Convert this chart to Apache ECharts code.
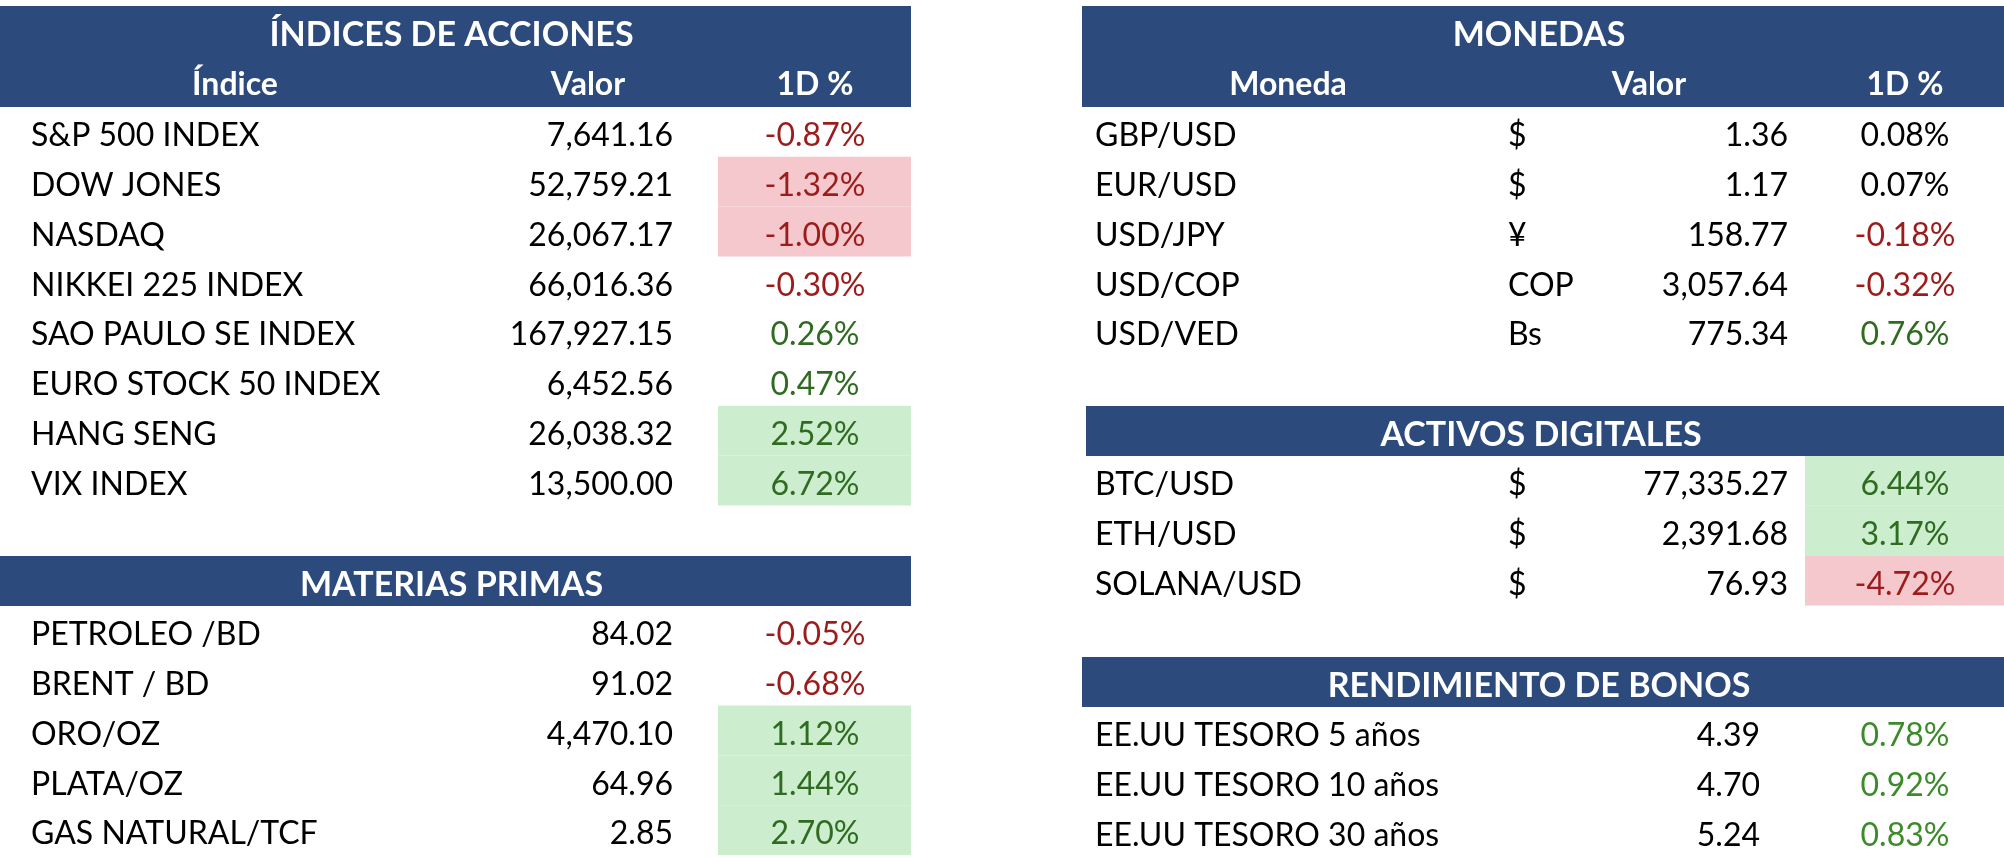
<!DOCTYPE html>
<html>
<head>
<meta charset="utf-8">
<script src="https://cdn.jsdelivr.net/npm/echarts@6/dist/echarts.min.js"></script>
<style>
  html, body { margin: 0; padding: 0; background: #fff; }
  #chart { width: 2004px; height: 862px; }
</style>
</head>
<body>
<div id="chart"></div>
<script>
// ---- data ----
const indicesNames = ["S&P 500 INDEX", "DOW JONES", "NASDAQ", "NIKKEI 225 INDEX", "SAO PAULO SE INDEX", "EURO STOCK 50 INDEX", "HANG SENG", "VIX INDEX"];
const indicesValues = [7641.16, 52759.21, 26067.17, 66016.36, 167927.15, 6452.56, 26038.32, 13500.00];
const indicesPct = [-0.87, -1.32, -1.00, -0.30, 0.26, 0.47, 2.52, 6.72];

const materiasNames = ["PETROLEO /BD", "BRENT / BD", "ORO/OZ", "PLATA/OZ", "GAS NATURAL/TCF"];
const materiasValues = [84.02, 91.02, 4470.10, 64.96, 2.85];
const materiasPct = [-0.05, -0.68, 1.12, 1.44, 2.70];

const monedasNames = ["GBP/USD", "EUR/USD", "USD/JPY", "USD/COP", "USD/VED"];
const monedasSymbols = ["$", "$", "¥", "COP", "Bs"];
const monedasValues = [1.36, 1.17, 158.77, 3057.64, 775.34];
const monedasPct = [0.08, 0.07, -0.18, -0.32, 0.76];

const activosNames = ["BTC/USD", "ETH/USD", "SOLANA/USD"];
const activosSymbols = ["$", "$", "$"];
const activosValues = [77335.27, 2391.68, 76.93];
const activosPct = [6.44, 3.17, -4.72];

const bonosNames = ["EE.UU TESORO 5 años", "EE.UU TESORO 10 años", "EE.UU TESORO 30 años"];
const bonosValues = [4.39, 4.70, 5.24];
const bonosPct = [0.78, 0.92, 0.83];

// ---- style ----
const FONT = "Lato, 'Open Sans', sans-serif";
const BODY_SIZE = 32, HEAD_SIZE = 32, TITLE_SIZE = 34;
const HEAD_BG = "#2C4A7C";
const RED = "#9C1C1C", GREEN_DARK = "#2F6B20", GREEN = "#3C8A2C";
const PINK_BG = "#F5C8CD", GREEN_BG = "#CDEDCF";
const ROW_H = 49.8;

function fmt(v) {
    return v.toLocaleString("en-US", {minimumFractionDigits: 2, maximumFractionDigits: 2});
}

// cells are collected here, drawn by one custom series on a hidden value grid
const cells = [];
function rect(x0, y0, x1, y1, fill) {
    cells.push({kind: "rect", box: [x0, y0, x1, y1], fill: fill});
}
function text(x, y, str, align, color, size, bold) {
    cells.push({kind: "text", box: [x, y, x, y], str: str, align: align, color: color, size: size, bold: !!bold});
}

function addTable(t) {
    // title band
    rect(t.x0, t.top, t.x1, t.top + 50, HEAD_BG);
    text((t.x0 + t.x1) / 2 - 4, t.top + 29, t.title, "center", "#fff", TITLE_SIZE, true);
    let rowTop = t.top + 50;
    if (t.headers) {
        rect(t.x0, rowTop - 1, t.x1, rowTop + 51, HEAD_BG);
        t.headers.forEach(function (h, i) {
            text(t.headerX[i], rowTop + 29, h, "center", "#fff", HEAD_SIZE, true);
        });
        rowTop += 51;
    }
    t.names.forEach(function (name, i) {
        const cy = rowTop + ROW_H * i + ROW_H / 2 + 4;
        const p = t.pct[i];
        let color = "#000";
        if (p < 0) color = RED;
        else if (p > (t.flat || 0)) color = t.posColor;
        if (Math.abs(p) >= 1) {
            rect(t.bgX, rowTop + ROW_H * i, t.x1, rowTop + ROW_H * (i + 1), p < 0 ? PINK_BG : GREEN_BG);
        }
        text(t.nameX, cy, name, "left", "#000", BODY_SIZE);
        if (t.symbols) text(t.symX, cy, t.symbols[i], "left", "#000", BODY_SIZE);
        text(t.valueX, cy, fmt(t.values[i]), "right", "#000", BODY_SIZE);
        text(t.pctX, cy, fmt(p) + "%", "center", color, BODY_SIZE);
    });
}

addTable({
    title: "ÍNDICES DE ACCIONES", x0: 0, x1: 911, top: 6,
    headers: ["Índice", "Valor", "1D %"], headerX: [235, 588, 815],
    names: indicesNames, values: indicesValues, pct: indicesPct,
    nameX: 31, valueX: 673, pctX: 815, bgX: 718, posColor: GREEN_DARK
});
addTable({
    title: "MATERIAS PRIMAS", x0: 0, x1: 911, top: 556,
    names: materiasNames, values: materiasValues, pct: materiasPct,
    nameX: 31, valueX: 673, pctX: 815, bgX: 718, posColor: GREEN_DARK
});
addTable({
    title: "MONEDAS", x0: 1082, x1: 2004, top: 6,
    headers: ["Moneda", "Valor", "1D %"], headerX: [1288, 1649, 1905],
    names: monedasNames, symbols: monedasSymbols, values: monedasValues, pct: monedasPct,
    nameX: 1095, symX: 1508, valueX: 1788, pctX: 1905, bgX: 1805, posColor: GREEN_DARK, flat: 0.1
});
addTable({
    title: "ACTIVOS DIGITALES", x0: 1086, x1: 2004, top: 406,
    names: activosNames, symbols: activosSymbols, values: activosValues, pct: activosPct,
    nameX: 1095, symX: 1508, valueX: 1788, pctX: 1905, bgX: 1805, posColor: GREEN_DARK
});
addTable({
    title: "RENDIMIENTO DE BONOS", x0: 1082, x1: 2004, top: 657,
    names: bonosNames, values: bonosValues, pct: bonosPct,
    nameX: 1095, valueX: 1760, pctX: 1905, bgX: 1805, posColor: GREEN
});

const chart = echarts.init(document.getElementById("chart"));

chart.setOption({
    animation: false,
    grid: {left: 0, right: 0, top: 0, bottom: 0},
    xAxis: {type: "value", min: 0, max: 2004, show: false},
    yAxis: {type: "value", min: 0, max: 862, inverse: true, show: false},
    series: [{
        type: "custom",
        clip: false,
        data: cells.map(function (c) { return c.box; }),
        renderItem: function (params, api) {
            const c = cells[params.dataIndex];
            const p0 = api.coord([api.value(0), api.value(1)]);
            if (c.kind === "rect") {
                const p1 = api.coord([api.value(2), api.value(3)]);
                return {
                    type: "rect",
                    shape: {x: p0[0], y: p0[1], width: p1[0] - p0[0], height: p1[1] - p0[1]},
                    style: {fill: c.fill}
                };
            }
            return {
                type: "text",
                x: p0[0], y: p0[1],
                style: {
                    text: c.str,
                    fill: c.color,
                    font: (c.bold ? "bold " : "") + c.size + "px " + FONT,
                    textAlign: c.align,
                    textVerticalAlign: "middle"
                }
            };
        }
    }]
});
</script>
</body>
</html>
